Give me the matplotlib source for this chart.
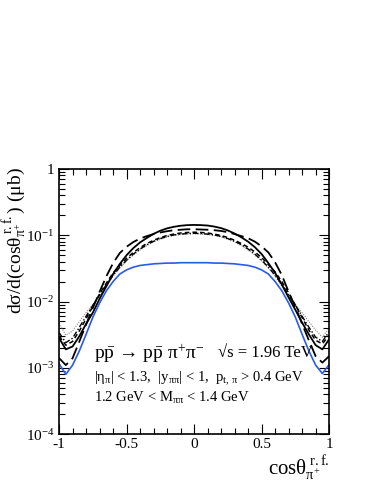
import numpy as np
import matplotlib
matplotlib.use('Agg')
import matplotlib.pyplot as plt
from matplotlib.ticker import MultipleLocator, FixedLocator, NullFormatter

plt.rcParams['font.family'] = ['Liberation Serif', 'DejaVu Serif']
plt.rcParams['mathtext.fontset'] = 'custom'
plt.rcParams['mathtext.rm'] = 'Liberation Serif'
plt.rcParams['mathtext.it'] = 'Liberation Serif'
plt.rcParams['mathtext.bf'] = 'Liberation Serif:bold'
plt.rcParams['mathtext.fallback'] = 'stix'

# cos(theta) bin centres
cth = np.linspace(-1.0, 1.0, 41)

# blue curve
blue = [0.00115, 0.00080, 0.0011, 0.0018, 0.0032, 0.0058, 0.0095, 0.0145, 0.020, 0.026,
        0.030, 0.033, 0.035, 0.036, 0.037, 0.0375, 0.038, 0.038, 0.0385, 0.0385,
        0.0385,
        0.0385, 0.0385, 0.038, 0.038, 0.0375, 0.037, 0.036, 0.035, 0.033, 0.030,
        0.026, 0.020, 0.0145, 0.0095, 0.0058, 0.0032, 0.0018, 0.0011, 0.00082, 0.00112]
# solid black
solid = [0.0028, 0.0019, 0.0021, 0.0030, 0.0046, 0.0068, 0.011, 0.017, 0.026, 0.037,
         0.050, 0.064, 0.078, 0.091, 0.105, 0.117, 0.127, 0.134, 0.139, 0.142,
         0.143,
         0.142, 0.140, 0.135, 0.128, 0.118, 0.106, 0.093, 0.080, 0.066, 0.052,
         0.038, 0.027, 0.018, 0.0115, 0.0075, 0.0048, 0.0032, 0.0022, 0.0019, 0.0027]
# long dashed
longdash = [0.0014, 0.0011, 0.0014, 0.0025, 0.0045, 0.0080, 0.014, 0.024, 0.038, 0.054,
            0.067, 0.079, 0.089, 0.097, 0.104, 0.110, 0.115, 0.119, 0.121, 0.123,
            0.123,
            0.122, 0.121, 0.119, 0.116, 0.111, 0.104, 0.097, 0.090, 0.080, 0.068,
            0.055, 0.039, 0.025, 0.014, 0.0082, 0.0046, 0.0026, 0.0015, 0.0012, 0.0015]
# short dashed
dashed = [0.0030, 0.0022, 0.0025, 0.0036, 0.0055, 0.0085, 0.013, 0.019, 0.027, 0.035,
          0.045, 0.055, 0.065, 0.075, 0.084, 0.092, 0.099, 0.104, 0.108, 0.110,
          0.111,
          0.110, 0.108, 0.104, 0.099, 0.092, 0.084, 0.075, 0.066, 0.056, 0.046,
          0.036, 0.028, 0.020, 0.0135, 0.0088, 0.0057, 0.0037, 0.0026, 0.0023, 0.0031]
# dotted (grey)
dotted = [0.0047, 0.0031, 0.0036, 0.0050, 0.0068, 0.0090, 0.012, 0.017, 0.024, 0.032,
          0.041, 0.050, 0.060, 0.070, 0.079, 0.087, 0.094, 0.099, 0.102, 0.104,
          0.105,
          0.104, 0.102, 0.099, 0.094, 0.087, 0.079, 0.070, 0.060, 0.050, 0.041,
          0.032, 0.024, 0.017, 0.012, 0.0090, 0.0068, 0.0050, 0.0037, 0.0029, 0.0040]
# dash-dotted
dashdot = [0.0034, 0.0024, 0.0028, 0.0041, 0.0060, 0.0088, 0.0125, 0.018, 0.025, 0.033,
           0.042, 0.052, 0.062, 0.072, 0.081, 0.089, 0.096, 0.101, 0.104, 0.106,
           0.107,
           0.106, 0.104, 0.101, 0.096, 0.089, 0.081, 0.072, 0.062, 0.052, 0.042,
           0.033, 0.025, 0.018, 0.0125, 0.0088, 0.0060, 0.0041, 0.0029, 0.0025, 0.0035]

ytick_vals = [1e-4, 1e-3, 1e-2, 1e-1, 1]
ytick_labels = ['$10^{-4}$', '$10^{-3}$', '$10^{-2}$', '$10^{-1}$', '1']
xtick_vals = [-1, -0.5, 0, 0.5, 1]
xtick_labels = ['-1', '-0.5', '0', '0.5', '1']

fig = plt.figure(figsize=(3.74, 4.84), dpi=100)
ax = fig.add_axes([0.158, 0.103, 0.722, 0.548])

ax.plot(cth, dotted, color='#888888', lw=0.8, ls=(0, (1, 1.2)))
ax.plot(cth, dashdot, color='black', lw=1.0, ls=(0, (4, 1.5, 1, 1.5)))
ax.plot(cth, dashed, color='black', lw=1.1, ls=(0, (3, 2)))
ax.plot(cth, longdash, color='black', lw=1.3, ls=(0, (7, 3)))
ax.plot(cth, solid, color='black', lw=1.3)
ax.plot(cth, blue, color='#2a5be8', lw=1.2)

ax.set_yscale('log')
ax.set_xlim(-1, 1)
ax.set_ylim(1e-4, 1)
ax.yaxis.set_major_locator(FixedLocator(ytick_vals))
ax.set_yticklabels(ytick_labels)
ax.yaxis.set_minor_locator(matplotlib.ticker.LogLocator(base=10, subs=np.arange(2, 10)))
ax.yaxis.set_minor_formatter(NullFormatter())
ax.set_xticks(xtick_vals)
ax.set_xticklabels(xtick_labels)
ax.xaxis.set_minor_locator(MultipleLocator(0.1))

ax.tick_params(which='both', direction='in', top=True, right=True, labelsize=11, width=0.8)
ax.tick_params(axis='x', pad=3)
ax.tick_params(which='major', length=7)
ax.tick_params(which='minor', length=4)
for s in ax.spines.values():
    s.set_linewidth(1.2)

fig.text(0.037, 0.655, r'd$\sigma$/d(cos$\theta^{\,\mathrm{r.f.}}_{\pi^{+}}$) ($\mu$b)',
         rotation=90, va='top', ha='center', fontsize=14)
fig.text(0.882, 0.02, r'cos$\theta^{\,\mathrm{r.f.}}_{\pi^{+}}$', ha='right', va='baseline', fontsize=15)

ax.text(0.13, 0.285, r'p$\bar{\mathrm{p}}$ → p$\bar{\mathrm{p}}$ π$^{+}$π$^{-}$',
        transform=ax.transAxes, fontsize=14)
ax.text(0.59, 0.29, '√s = 1.96 TeV', transform=ax.transAxes, fontsize=12)
ax.text(0.13, 0.195, r'$|\eta_{\pi}|$ < 1.3,  $|y_{\pi\pi}|$ < 1,  $p_{t,\,\pi}$ > 0.4 GeV',
        transform=ax.transAxes, fontsize=10.5)
ax.text(0.13, 0.12, r'1.2 GeV < $M_{\pi\pi}$ < 1.4 GeV', transform=ax.transAxes, fontsize=10.5)

fig.savefig('out.png', dpi=100)
